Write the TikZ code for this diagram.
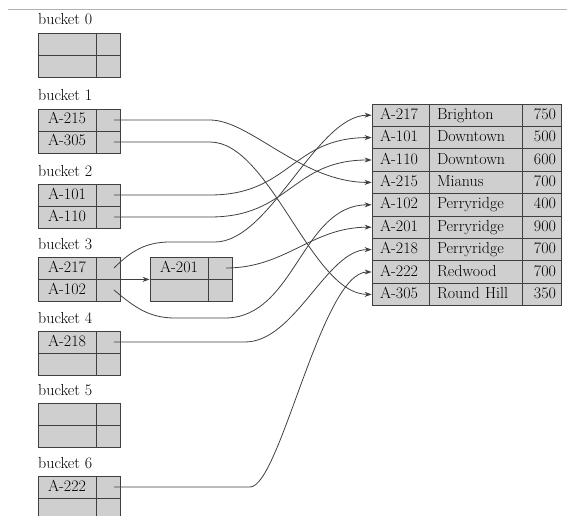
\documentclass[tikz,border=0pt]{standalone}
\usepackage{tikz}
\usetikzlibrary{arrows.meta}

\definecolor{cellgray}{gray}{0.81}
\definecolor{linegray}{gray}{0.25}

\tikzset{
  cell/.style={draw=linegray, fill=cellgray, line width=0.8pt, inner sep=0pt,
    minimum height=22pt, text height=11pt, text depth=3pt},
  keycell/.style={cell, minimum width=58pt},
  ptrcell/.style={cell, minimum width=24pt},
  bktname/.style={anchor=base west, inner sep=0pt},
  acct/.style={cell, minimum height=22.4pt, text width=41pt, inner xsep=8pt, align=left},
  branch/.style={cell, minimum height=22.4pt, text width=77pt, inner xsep=8pt, align=left},
  amount/.style={cell, minimum height=22.4pt, text width=29pt, inner xsep=5pt, align=right},
  ptr/.style={draw=linegray, line width=0.8pt, -{Stealth[length=7pt,width=5pt]}}
}

\begin{document}
\begin{tikzpicture}[x=1pt, y=1pt, every node/.style={font=\fontsize{16}{19}\selectfont}]
  \useasboundingbox (0,0) rectangle (567,515);
  \draw[gray!60, line width=0.8pt] (8,506) -- (567,506);

  % buckets: number / top edge / two search keys
  \foreach \n/\yt/\ka/\kb in {0/482/{}/{}, 1/406/A-215/A-305, 2/331/A-101/A-110,
      3/258/A-217/A-102, 4/184/A-218/{}, 5/112/{}/{}, 6/39/A-222/{}} {
    \node[bktname] (n\n) at (38,\yt+8) {bucket \n};
    \node[keycell] (b\n-k1) at (67,\yt-11) {\ka};
    \node[ptrcell] (b\n-p1) at (108,\yt-11) {};
    \node[keycell] (b\n-k2) at (67,\yt-33) {\kb};
    \node[ptrcell] (b\n-p2) at (108,\yt-33) {};
  }

  % overflow bucket of bucket 3
  \node[keycell] (ov-k1) at (179,247) {A-201};
  \node[ptrcell] (ov-p1) at (220,247) {};
  \node[keycell] (ov-k2) at (179,225) {};
  \node[ptrcell] (ov-p2) at (220,225) {};

  % account file
  \foreach \acc/\br/\amt [count=\i] in {A-217/Brighton/750, A-101/Downtown/500,
      A-110/Downtown/600, A-215/Mianus/700, A-102/Perryridge/400,
      A-201/Perryridge/900, A-218/Perryridge/700, A-222/Redwood/700,
      A-305/Round Hill/350} {
    \node[acct] (t\i) at (400.5,{422.2-22.4*\i}) {\acc};
    \node[branch] (br\i) at (475.5,{422.2-22.4*\i}) {\br};
    \node[amount] (am\i) at (541.5,{422.2-22.4*\i}) {\amt};
  }

  % pointers
  \draw[ptr] ([xshift=6pt]b1-p1.center) -- (210,395)
    to[out=0,in=180,out distance=40pt,in distance=70pt] (t4.west);
  \draw[ptr] ([xshift=6pt]b1-p2.center) -- (210,373)
    to[out=0,in=180,out distance=60pt,in distance=60pt] (t9.west);
  \draw[ptr] ([xshift=6pt]b2-p1.center) -- (210,320)
    to[out=0,in=180,out distance=80pt,in distance=80pt] (t2.west);
  \draw[ptr] ([xshift=6pt]b2-p2.center) -- (210,298)
    to[out=0,in=180,out distance=80pt,in distance=80pt] (t3.west);
  \draw[ptr] ([xshift=6pt]b3-p1.center) to[out=45,in=180] (170,273) -- (215,273)
    to[out=0,in=180,out distance=55pt,in distance=55pt] (t1.west);
  \draw[ptr] ([xshift=6pt]b3-p2.center) to[out=-40,in=180] (175,197) -- (225,197)
    to[out=0,in=180,out distance=70pt,in distance=70pt] (t5.west);
  \draw[ptr] (b3-p1.south east) -- (ov-k1.south west);
  \draw[ptr] ([xshift=6pt]ov-p1.center)
    to[out=0,in=180,out distance=60pt,in distance=60pt] (t6.west);
  \draw[ptr] ([xshift=6pt]b4-p1.center) -- (245,173)
    to[out=0,in=180,out distance=50pt,in distance=45pt] (t7.west);
  \draw[ptr] ([xshift=6pt]b6-p1.center) -- (250,28)
    to[out=0,in=180,out distance=30pt,in distance=50pt] (t8.west);
\end{tikzpicture}
\end{document}
